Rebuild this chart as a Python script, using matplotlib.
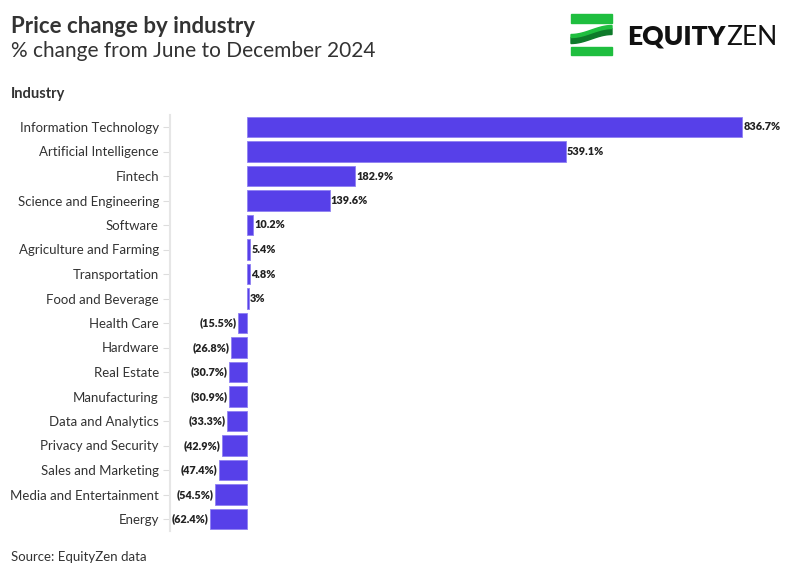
import matplotlib.pyplot as plt
from matplotlib.patches import Rectangle, Polygon
import numpy as np

plt.rcParams['font.family'] = ['Lato', 'DejaVu Sans']

industries = ['Information Technology', 'Artificial Intelligence', 'Fintech',
              'Science and Engineering', 'Software', 'Agriculture and Farming',
              'Transportation', 'Food and Beverage', 'Health Care', 'Hardware',
              'Real Estate', 'Manufacturing', 'Data and Analytics',
              'Privacy and Security', 'Sales and Marketing',
              'Media and Entertainment', 'Energy']
changes = [836.7, 539.1, 182.9, 139.6, 10.2, 5.4, 4.8, 3.0, -15.5, -26.8,
           -30.7, -30.9, -33.3, -42.9, -47.4, -54.5, -62.4]
labels = ['836.7%', '539.1%', '182.9%', '139.6%', '10.2%', '5.4%', '4.8%', '3%',
          '(15.5%)', '(26.8%)', '(30.7%)', '(30.9%)', '(33.3%)', '(42.9%)',
          '(47.4%)', '(54.5%)', '(62.4%)']

W, H = 794, 575
fig = plt.figure(figsize=(W / 100, H / 100), dpi=100)

# axes placed in pixel coords
ax_l, ax_r, ax_t, ax_b = 170, 760, 114.75, 531.25
ax = fig.add_axes([ax_l / W, 1 - ax_b / H, (ax_r - ax_l) / W, (ax_b - ax_t) / H])

ypos = np.arange(len(industries))
ax.barh(ypos, changes, height=0.82, color='#5740E9', edgecolor='#8f80f2', linewidth=0.6)
ax.set_ylim(len(industries) - 0.5, -0.5)
ax.set_xlim(-130, 867)

for y, v, lab in zip(ypos, changes, labels):
    if v >= 0:
        ax.text(v + 2, y, lab, va='center', ha='left', fontsize=7.8,
                fontweight='heavy', color='#222222')
    else:
        ax.text(v - 2, y, lab, va='center', ha='right', fontsize=7.8,
                fontweight='heavy', color='#222222')

ax.set_yticks(ypos)
ax.set_yticklabels(industries, fontsize=9.5, color='#333333')
ax.tick_params(axis='y', length=5, color='#dddddd', pad=3)
ax.set_xticks([])
for s in ['top', 'right', 'bottom']:
    ax.spines[s].set_visible(False)
ax.spines['left'].set_color('#e6e6e6')
ax.spines['left'].set_linewidth(1.5)

# titles
fig.text(11 / W, 1 - 33 / H, 'Price change by industry', fontsize=16,
         fontweight='bold', color='#333333')
fig.text(11 / W, 1 - 57 / H, '% change from June to December 2024', fontsize=15,
         color='#333333')
fig.text(11 / W, 1 - 98 / H, 'Industry', fontsize=10.5, fontweight='bold',
         color='#333333')
fig.text(11 / W, 1 - 561 / H, 'Source: EquityZen data', fontsize=9.5,
         color='#333333')

# logo
def px(x, y):
    return (x / W, 1 - y / H)

green = '#1fbe3f'
dark = '#0e7a2a'
fig.patches.append(Rectangle(px(571, 23), 41 / W, 9 / H, transform=fig.transFigure,
                             color=green))
fig.patches.append(Rectangle(px(571, 55), 41 / W, 8 / H, transform=fig.transFigure,
                             color=green))
xs = np.linspace(571, 612, 40)
center = 34.5 + 4.5 * np.cos((xs - 571) / 41 * np.pi)
top = center - 4.5
mid = center - 1.5
bot = center + 4.5
fig.patches.append(Polygon([px(x, y) for x, y in zip(xs, mid)] +
                           [px(x, y) for x, y in zip(xs[::-1], bot[::-1])],
                           closed=True, transform=fig.transFigure, color=dark))
fig.patches.append(Polygon([px(x, y) for x, y in zip(xs, top)] +
                           [px(x, y) for x, y in zip(xs[::-1], mid[::-1])],
                           closed=True, transform=fig.transFigure, color=green))
t1 = fig.text(627 / W, 1 - 45 / H, 'EQUITY', fontsize=19, fontweight='heavy',
              color='#111111')
fig.canvas.draw()
bb = t1.get_window_extent()
fig.text(bb.x1 / W + 0.001, 1 - 45 / H, 'ZEN', fontsize=19, color='#111111')

fig.savefig('out.png', dpi=100)
